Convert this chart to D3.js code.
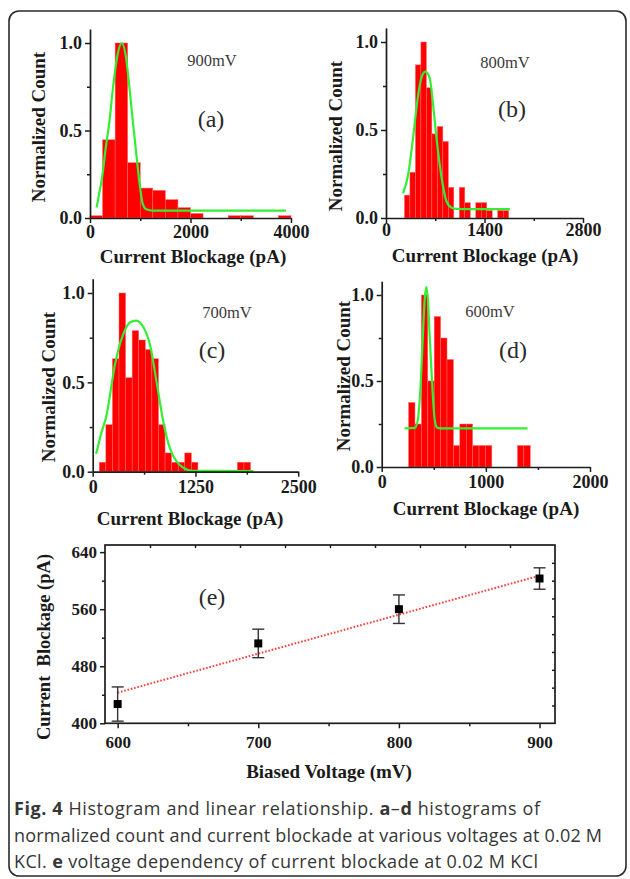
<!DOCTYPE html>
<html><head><meta charset="utf-8">
<script src="https://cdn.jsdelivr.net/npm/d3@7"></script>
<style>
html,body{margin:0;padding:0;background:#fff;}
svg{display:block;}
</style></head><body>
<svg id="fig" width="630" height="879"></svg>
<script>
// ---------- shared histogram axis values ----------
const yTickValues = [0, 0.5, 1.0];
const yTickLabels = ["0.0", "0.5", "1.0"];
const yMinorValues = [0.25, 0.75];

// ---------- (a) 900 mV ----------
const binWidthA = 250;
const binLeftA = [0, 250, 500, 750, 1000, 1250, 1500, 1750, 2000, 2750, 3000, 3750];
const countA   = [0.013, 0.447, 1.0, 0.316, 0.171, 0.158, 0.105, 0.059, 0.026, 0.013, 0.013, 0.013];
const fitXA = [130, 190, 250, 300, 390, 460, 540, 630, 710, 780, 850, 920, 990, 1050, 1120, 1250, 2000, 3900];
const fitYA = [0.06, 0.15, 0.25, 0.37, 0.56, 0.75, 0.92, 1.0, 0.93, 0.76, 0.56, 0.37, 0.19, 0.08, 0.05, 0.042, 0.042, 0.042];
const xTicksA = [0, 2000, 4000];
const xMinorA = [1000, 3000];

// ---------- (b) 800 mV ----------
const binWidthB = 78;
const binLeftB = [262, 340, 418, 496, 574, 652, 730, 808, 886, 1042, 1120, 1276, 1354, 1432, 1588, 1666];
const countB   = [0.13, 0.26, 0.87, 1.0, 0.74, 0.478, 0.52, 0.435, 0.174, 0.174, 0.087, 0.087, 0.087, 0.043, 0.043, 0.043];
const fitXB = [241, 312, 383, 454, 502, 559, 621, 668, 715, 786, 857, 928, 1000, 1200, 1761];
const fitYB = [0.14, 0.24, 0.45, 0.69, 0.795, 0.832, 0.795, 0.65, 0.465, 0.24, 0.098, 0.06, 0.052, 0.05, 0.05];
const xTicksB = [0, 1400, 2800];
const xMinorB = [700, 2100];

// ---------- (c) 700 mV ----------
const binWidthC = 80;
const binLeftC = [80, 160, 240, 320, 400, 480, 560, 640, 720, 800, 880, 960, 1040, 1120, 1200, 1760, 1840];
const countC   = [0.053, 0.263, 0.632, 1.0, 0.526, 0.789, 0.737, 0.684, 0.632, 0.263, 0.105, 0.053, 0.053, 0.105, 0.053, 0.053, 0.053];
const fitXC = [40, 69, 89, 170, 271, 372, 453, 527, 616, 697, 778, 859, 940, 1022, 1103, 1204, 1955];
const fitYC = [0.10, 0.15, 0.19, 0.32, 0.60, 0.77, 0.835, 0.845, 0.81, 0.71, 0.50, 0.28, 0.13, 0.056, 0.022, 0.005, 0.004];
const xTicksC = [0, 1250, 2500];
const xMinorC = [625, 1875];

// ---------- (d) 600 mV ----------
const binWidthD = 61.5;
const binLeftD = [258, 319.5, 381, 442.5, 504, 565.5, 627, 688.5, 750, 811.5, 873, 934.5, 996, 1303.5, 1365];
const countD   = [0.375, 0.25, 1.0, 0.5, 0.875, 0.75, 0.625, 0.125, 0.25, 0.25, 0.125, 0.125, 0.125, 0.125, 0.125];
const fitXD = [220, 320, 348, 374, 396, 412, 428, 444, 460, 485, 508, 531, 560, 1400];
const fitYD = [0.225, 0.228, 0.28, 0.48, 0.77, 0.97, 1.048, 0.97, 0.77, 0.48, 0.28, 0.23, 0.225, 0.225];
const xTicksD = [0, 1000, 2000];
const xMinorD = [500, 1500];

// ---------- (e) voltage dependency ----------
const voltages = [600, 700, 800, 900];
const blockage = [427, 512, 560, 603];
const blockageErr = [24, 20, 20, 15];
const fitLineV = [600, 900];
const fitLineC = [443, 607];
const eXTicks = [600, 700, 800, 900];
const eXMinor = [650, 750, 850];
const eYTicks = [400, 480, 560, 640];
const eYMinor = [440, 520, 600];
const eTopTicks = [623, 655, 687, 719, 751, 783, 815, 847, 879];
const eRightTicks = [425, 450, 475, 500, 525, 550, 575, 600, 625];

const captionLines = [
  [["Fig. 4", true], [" Histogram and linear relationship. ", false], ["a", true], ["–", false], ["d", true], [" histograms of", false]],
  [["normalized count and current blockade at various voltages at 0.02 M", false]],
  [["KCl. ", false], ["e", true], [" voltage dependency of current blockade at 0.02 M KCl", false]]
];

// ---------- drawing ----------
const SERIF = "'Liberation Serif','Times New Roman',serif";
const AX = "#1c1c1c";
const svg = d3.select("#fig");

svg.append("rect").attr("x", 9).attr("y", 11).attr("width", 617).attr("height", 865)
  .attr("rx", 10).attr("fill", "none").attr("stroke", "#2a2a2a").attr("stroke-width", 1.6);

function styleAxis(g, fontSize) {
  g.select(".domain").attr("stroke", AX).attr("stroke-width", 1.7);
  g.selectAll(".tick line").attr("stroke", AX).attr("stroke-width", 1.5);
  g.selectAll(".tick text").attr("fill", "#1a1a1a").attr("font-family", SERIF)
    .attr("font-weight", "bold").attr("font-size", fontSize);
}

const panels = [
  { binW: binWidthA, left: binLeftA, h: countA, fx: fitXA, fy: fitYA, xt: xTicksA, xm: xMinorA, xmax: 4000,
    x0: 90, x1: 291, y0: 218, y1: 43, yTitle: [38, 127], xTitle: [193, 263], volt: "900mV", vPos: [212, 66], tag: "(a)", tPos: [211, 127], lblDy: 20 },
  { binW: binWidthB, left: binLeftB, h: countB, fx: fitXB, fy: fitYB, xt: xTicksB, xm: xMinorB, xmax: 2800,
    x0: 386, x1: 583, y0: 218, y1: 42, yTitle: [335, 136], xTitle: [485, 262], volt: "800mV", vPos: [505, 68], tag: "(b)", tPos: [512, 117], lblDy: 18 },
  { binW: binWidthC, left: binLeftC, h: countC, fx: fitXC, fy: fitYC, xt: xTicksC, xm: xMinorC, xmax: 2500,
    x0: 92.7, x1: 298.2, y0: 471.7, y1: 293, yTitle: [48, 387], xTitle: [190, 525], volt: "700mV", vPos: [227, 318], tag: "(c)", tPos: [212, 358], lblDy: 21 },
  { binW: binWidthD, left: binLeftD, h: countD, fx: fitXD, fy: fitYD, xt: xTicksD, xm: xMinorD, xmax: 2000,
    x0: 381.7, x1: 590, y0: 467, y1: 295, yTitle: [343, 376], xTitle: [486, 515], volt: "600mV", vPos: [490, 317], tag: "(d)", tPos: [513, 358], lblDy: 21 }
];

panels.forEach(p => {
  const x = d3.scaleLinear().domain([0, p.xmax]).range([p.x0, p.x1]);
  const y = d3.scaleLinear().domain([0, 1.08]).range([p.y0, p.y0 - (p.y0 - p.y1) * 1.08]);
  const g = svg.append("g");

  // histogram bars
  const bins = p.left.map((l, i) => ({ l, v: p.h[i] }));
  g.selectAll("rect.bar").data(bins).join("rect").attr("class", "bar")
    .attr("x", d => x(d.l)).attr("width", d => x(d.l + p.binW) - x(d.l))
    .attr("y", d => y(d.v)).attr("height", d => y(0) - y(d.v))
    .attr("fill", "#ff0000").attr("stroke", "#ff6a6a").attr("stroke-width", 0.5);

  // fitted curve
  const pts = p.fx.map((v, i) => [v, p.fy[i]]);
  g.append("path").datum(pts)
    .attr("d", d3.line().x(d => x(d[0])).y(d => y(d[1])).curve(d3.curveMonotoneX))
    .attr("fill", "none").attr("stroke", "#33ee33").attr("stroke-width", 2.2);

  // axes
  const ya = g.append("g").attr("transform", `translate(${p.x0},0)`)
    .call(d3.axisLeft(y).tickValues(yTickValues).tickFormat((d, i) => yTickLabels[i]).tickSize(5).tickSizeOuter(0).tickPadding(3));
  styleAxis(ya, 18);
  const ym = g.append("g").attr("transform", `translate(${p.x0},0)`)
    .call(d3.axisLeft(y).tickValues(yMinorValues).tickFormat("").tickSize(3).tickSizeOuter(0));
  styleAxis(ym, 18);
  ym.select(".domain").remove();

  const xa = g.append("g").attr("transform", `translate(0,${p.y0})`)
    .call(d3.axisBottom(x).tickValues(p.xt).tickFormat(d3.format("d")).tickSize(5).tickSizeOuter(0).tickPadding(4));
  styleAxis(xa, 18);
  xa.selectAll(".tick text").attr("dy", null).attr("y", p.lblDy);
  const xm = g.append("g").attr("transform", `translate(0,${p.y0})`)
    .call(d3.axisBottom(x).tickValues(p.xm).tickFormat("").tickSize(3).tickSizeOuter(0));
  styleAxis(xm, 18);
  xm.select(".domain").remove();

  // titles and labels
  g.append("text").attr("transform", `translate(${p.yTitle[0]},${p.yTitle[1]}) rotate(-90)`)
    .attr("text-anchor", "middle").attr("dy", "0.35em")
    .attr("font-family", SERIF).attr("font-weight", "bold").attr("font-size", 19).attr("fill", "#1a1a1a")
    .text("Normalized Count");
  g.append("text").attr("x", p.xTitle[0]).attr("y", p.xTitle[1]).attr("text-anchor", "middle")
    .attr("font-family", SERIF).attr("font-weight", "bold").attr("font-size", 19).attr("fill", "#1a1a1a")
    .text("Current Blockage (pA)");
  g.append("text").attr("x", p.vPos[0]).attr("y", p.vPos[1]).attr("text-anchor", "middle")
    .attr("font-family", SERIF).attr("font-size", 16.5).attr("fill", "#3a3a3a").text(p.volt);
  g.append("text").attr("x", p.tPos[0]).attr("y", p.tPos[1]).attr("text-anchor", "middle")
    .attr("font-family", SERIF).attr("font-size", 24).attr("fill", "#2a2a2a").text(p.tag);
});

// ---------- panel (e) ----------
{
  const L = 105, R = 555, T = 545, B = 723.3;
  const x = d3.scaleLinear().domain([591, 911]).range([L, R]);
  const y = d3.scaleLinear().domain([400, 650]).range([B, T]);
  const g = svg.append("g");

  g.append("rect").attr("x", L).attr("y", T).attr("width", R - L).attr("height", B - T)
    .attr("fill", "none").attr("stroke", AX).attr("stroke-width", 1.7);

  const la = g.append("g").attr("transform", `translate(${L},0)`)
    .call(d3.axisLeft(y).tickValues(eYTicks).tickFormat(d3.format("d")).tickSize(5).tickSizeOuter(0).tickPadding(3));
  styleAxis(la, 17);
  la.select(".domain").remove();
  const lm = g.append("g").attr("transform", `translate(${L},0)`)
    .call(d3.axisLeft(y).tickValues(eYMinor).tickFormat("").tickSize(3).tickSizeOuter(0));
  styleAxis(lm, 17); lm.select(".domain").remove();

  const ba = g.append("g").attr("transform", `translate(0,${B})`)
    .call(d3.axisBottom(x).tickValues(eXTicks).tickFormat(d3.format("d")).tickSize(5).tickSizeOuter(0).tickPadding(4));
  styleAxis(ba, 17);
  ba.select(".domain").remove();
  ba.selectAll(".tick text").attr("dy", null).attr("y", 25);
  const bm = g.append("g").attr("transform", `translate(0,${B})`)
    .call(d3.axisBottom(x).tickValues(eXMinor).tickFormat("").tickSize(3).tickSizeOuter(0));
  styleAxis(bm, 17); bm.select(".domain").remove();

  const ta = g.append("g").attr("transform", `translate(0,${T})`)
    .call(d3.axisTop(x).tickValues(eTopTicks).tickFormat("").tickSize(-3).tickSizeOuter(0));
  styleAxis(ta, 17); ta.select(".domain").remove();
  const ra = g.append("g").attr("transform", `translate(${R},0)`)
    .call(d3.axisRight(y).tickValues(eRightTicks).tickFormat("").tickSize(-3).tickSizeOuter(0));
  styleAxis(ra, 17); ra.select(".domain").remove();

  // linear fit
  g.append("line")
    .attr("x1", x(fitLineV[0])).attr("y1", y(fitLineC[0]))
    .attr("x2", x(fitLineV[1])).attr("y2", y(fitLineC[1]))
    .attr("stroke", "#ff3b3b").attr("stroke-width", 2).attr("stroke-dasharray", "1.6,1.8");

  const pts = voltages.map((v, i) => ({ v, c: blockage[i], e: blockageErr[i] }));
  const eb = g.selectAll("g.eb").data(pts).join("g").attr("class", "eb");
  eb.append("line").attr("x1", d => x(d.v)).attr("x2", d => x(d.v))
    .attr("y1", d => y(d.c - d.e)).attr("y2", d => y(d.c + d.e)).attr("stroke", "#333").attr("stroke-width", 1.4);
  eb.append("line").attr("x1", d => x(d.v) - 6).attr("x2", d => x(d.v) + 6)
    .attr("y1", d => y(d.c + d.e)).attr("y2", d => y(d.c + d.e)).attr("stroke", "#333").attr("stroke-width", 1.4);
  eb.append("line").attr("x1", d => x(d.v) - 6).attr("x2", d => x(d.v) + 6)
    .attr("y1", d => y(d.c - d.e)).attr("y2", d => y(d.c - d.e)).attr("stroke", "#333").attr("stroke-width", 1.4);
  eb.append("rect").attr("x", d => x(d.v) - 4).attr("y", d => y(d.c) - 4)
    .attr("width", 8).attr("height", 8).attr("fill", "#000");

  g.append("text").attr("transform", `translate(44,647) rotate(-90)`)
    .attr("text-anchor", "middle").attr("dy", "0.35em")
    .attr("font-family", SERIF).attr("font-weight", "bold").attr("font-size", 18.5).attr("fill", "#1a1a1a")
    .attr("xml:space", "preserve").style("white-space", "pre")
    .text("Current  Blockage (pA)");
  g.append("text").attr("x", 329).attr("y", 778).attr("text-anchor", "middle")
    .attr("font-family", SERIF).attr("font-weight", "bold").attr("font-size", 19).attr("fill", "#1a1a1a")
    .text("Biased Voltage (mV)");
  g.append("text").attr("x", 212).attr("y", 605).attr("text-anchor", "middle")
    .attr("font-family", SERIF).attr("font-size", 24).attr("fill", "#2a2a2a").text("(e)");
}

// ---------- caption ----------
const cap = svg.append("g");
const baselines = [815, 841.5, 868];
const lineWidths = [526, 588, 524];
captionLines.forEach((line, i) => {
  const t = cap.append("text").attr("x", 14).attr("y", baselines[i])
    .attr("font-family", "'Open Sans', 'Noto Sans', sans-serif").attr("font-size", 18).attr("fill", "#363636")
    .attr("textLength", lineWidths[i]).attr("lengthAdjust", "spacing")
    .attr("xml:space", "preserve").style("white-space", "pre");
  line.forEach(([s, b]) => t.append("tspan").attr("font-weight", b ? "bold" : "normal").text(s));
});
</script>
</body></html>
